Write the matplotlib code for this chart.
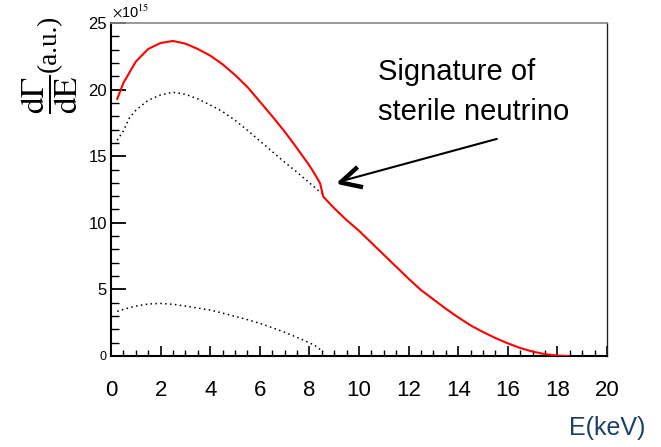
import numpy as np
import matplotlib
matplotlib.use("Agg")
import matplotlib.pyplot as plt
from matplotlib.ticker import MultipleLocator
from matplotlib.markers import MarkerStyle
from matplotlib.path import Path

plt.rcParams['font.family'] = ['Liberation Sans', 'DejaVu Sans']
plt.rcParams['mathtext.fontset'] = 'stix'

# ---- data (units of 1e15) ----
total_x = [0.25, 0.5, 1.0, 1.5, 2.0, 2.5, 3.0, 3.5, 4.0, 4.5, 5.0, 5.5, 6.0, 6.5,
           7.0, 7.5, 8.0, 8.3, 8.43, 8.56, 9.0, 9.5, 10.0, 10.5, 11.0, 11.5, 12.0,
           12.5, 13.0, 13.5, 14.0, 14.5, 15.0, 15.5, 16.0, 16.5, 17.0, 17.5, 18.0, 18.45]
total_y = [19.3, 20.5, 22.1, 23.05, 23.5, 23.65, 23.45, 23.05, 22.55, 21.9, 21.1, 20.2,
           19.1, 18.0, 16.85, 15.6, 14.3, 13.4, 12.97, 11.96, 11.1, 10.2, 9.4, 8.5,
           7.6, 6.7, 5.8, 4.95, 4.25, 3.55, 2.9, 2.3, 1.8, 1.35, 0.95, 0.6, 0.33,
           0.14, 0.03, 0.0]

active_x = [0.25, 0.5, 0.75, 1.0, 1.5, 2.0, 2.5, 3.0, 3.5, 4.0, 4.5, 5.0, 5.5, 6.0,
            6.5, 7.0, 7.5, 8.0, 8.5]
active_y = [16.2, 16.9, 17.9, 18.45, 19.2, 19.6, 19.8, 19.65, 19.3, 18.85, 18.35, 17.7,
            16.95, 16.15, 15.35, 14.55, 13.8, 13.0, 12.2]

sterile_x = [0.25, 0.5, 1.0, 1.5, 2.0, 2.5, 3.0, 3.5, 4.0, 4.5, 5.0, 5.5, 6.0, 6.5,
             7.0, 7.5, 8.0, 8.3, 8.55]
sterile_y = [3.35, 3.5, 3.75, 3.9, 3.95, 3.88, 3.75, 3.6, 3.45, 3.22, 2.98, 2.73, 2.45,
             2.13, 1.78, 1.4, 1.0, 0.7, 0.3]

x_ticks = [0, 2, 4, 6, 8, 10, 12, 14, 16, 18, 20]
y_ticks = [0, 5, 10, 15, 20, 25]

annot_text = "Signature of\nsterile neutrino"
annot_pos = (10.77, 20.72)
annot_line_step = 3.0
arrow_tip = (9.23, 13.1)
arrow_tail = (15.56, 16.3)

# ---- figure ----
fig = plt.figure(figsize=(6.61, 4.47), dpi=100)
ax = fig.add_axes([111/661, 1-356/447, (607-111)/661, (356-23)/447])

ax.plot(total_x, total_y, color='#ff0000', lw=1.5, zorder=3)
ax.plot(active_x, active_y, color='black', lw=1.1, linestyle=(0, (1, 2.2)), zorder=2)
ax.plot(sterile_x, sterile_y, color='black', lw=1.1, linestyle=(0, (1, 2.2)), zorder=2)

ax.set_xlim(0, 20)
ax.set_ylim(0, 25)

ax.xaxis.set_minor_locator(MultipleLocator(0.5))
ax.yaxis.set_minor_locator(MultipleLocator(1))
ax.set_xticks(x_ticks)
ax.set_xticklabels([str(t) for t in x_ticks], fontsize=16)
ax.set_yticks(y_ticks)
ylabels = ax.set_yticklabels([str(t) for t in y_ticks], fontsize=12)
ylabels[0].set_fontsize(9)

ax.tick_params(axis='x', which='major', direction='in', length=7, width=1.2, pad=17)
ax.tick_params(axis='x', which='minor', direction='in', length=4.5, width=1.0)
ax.tick_params(axis='y', which='major', direction='in', length=10.5, width=1.3, pad=3)
ax.tick_params(axis='y', which='minor', direction='in', length=5.5, width=1.0)

for s in ['left', 'bottom']:
    ax.spines[s].set_linewidth(1.5)
    ax.spines[s].set_color('black')
ax.spines['top'].set_color('#888888')
ax.spines['top'].set_linewidth(1.2)
ax.spines['right'].set_color('#222222')
ax.spines['right'].set_linewidth(1.0)

# exponent label
ax.text(0.003, 1.008, r'$\times$10$^{15}$', transform=ax.transAxes, fontsize=10.5,
        ha='left', va='bottom')

# y label (fraction + units)
fig.text(50/661, 1-94.5/447, r'$\dfrac{\mathrm{d}\Gamma}{\mathrm{dE}}$', rotation=90,
         fontsize=24, ha='center', va='center')
fig.text(49/661, 1-43.5/447, '(a.u.)', rotation=90,
         fontsize=19.5, family='Liberation Serif', ha='center', va='center')

# x label
fig.text(645/661, 1-428/447, 'E(keV)', fontsize=18, color='#1c3f6e',
         ha='right', va='center')

# annotation text
for i, line in enumerate(annot_text.split('\n')):
    ax.text(annot_pos[0], annot_pos[1] - i * annot_line_step, line, fontsize=21,
            ha='left', va='baseline')

# arrow line
ax.annotate('', xy=arrow_tip, xytext=arrow_tail,
            arrowprops=dict(arrowstyle='-', color='black', lw=1.5,
                            shrinkA=0, shrinkB=0))
# chevron head
p0 = ax.transData.transform(arrow_tip)
p1 = ax.transData.transform(arrow_tail)
ang = np.arctan2(p1[1]-p0[1], p1[0]-p0[0])
half = np.deg2rad(27)
verts = [(np.cos(ang+half), np.sin(ang+half)), (0, 0), (np.cos(ang-half), np.sin(ang-half))]
path = Path(verts, [Path.MOVETO, Path.LINETO, Path.LINETO])
mx = max(abs(v) for vv in verts for v in vv)
arm_pt = 23 * 0.72
ms = arm_pt * 2 * mx
ax.plot([arrow_tip[0]], [arrow_tip[1]], marker=MarkerStyle(path, fillstyle='none'),
        ms=ms, mew=3.2, mec='black', mfc='none', linestyle='none', clip_on=False, zorder=5)

fig.savefig('out.png', dpi=100)
